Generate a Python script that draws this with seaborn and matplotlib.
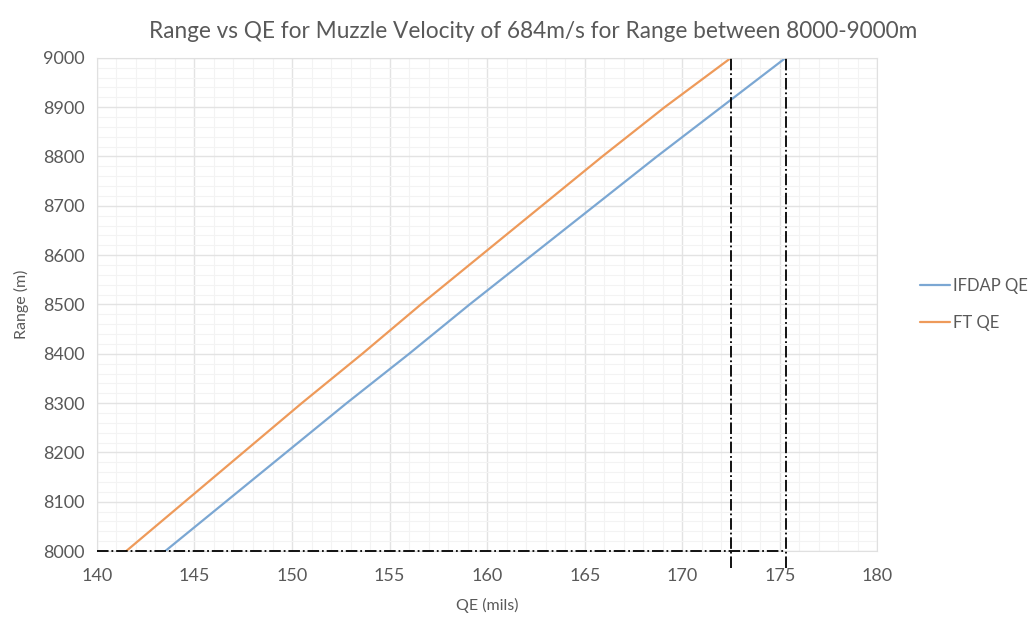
import pandas as pd
import seaborn as sns
import matplotlib.pyplot as plt
from matplotlib.ticker import MultipleLocator

# datos
rango = [8000, 8100, 8200, 8300, 8400, 8500, 8600, 8700, 8800, 8900, 9000]
ifdap_qe = [143.5, 146.6, 149.7, 152.8, 156.0, 159.1, 162.3, 165.5, 168.7, 172.0, 175.3]
ft_qe = [141.5, 144.5, 147.5, 150.5, 153.6, 156.6, 159.7, 162.8, 165.9, 169.1, 172.5]
series = ['IFDAP QE', 'FT QE']

df = pd.DataFrame({
    'QE': ifdap_qe + ft_qe,
    'Range': rango + rango,
    'Serie': [series[0]] * len(rango) + [series[1]] * len(rango),
})

sns.set_style('white')
plt.rcParams['font.family'] = ['Lato', 'DejaVu Sans']

fig = plt.figure(figsize=(10.31, 6.22), dpi=100)
ax = fig.add_axes([0.094, 0.114, 0.757, 0.793])

sns.lineplot(data=df, x='QE', y='Range', hue='Serie', sort=False,
             palette=['#7BA7D3', '#EE9A5A'], linewidth=1.6, ax=ax)

# lineas de referencia
gris = '#595959'
ax.axvline(ft_qe[-1], ymin=-0.035, ymax=1, color='black', lw=1.3, ls='-.', clip_on=False, zorder=5)
ax.axvline(ifdap_qe[-1], ymin=-0.035, ymax=1, color='black', lw=1.3, ls='-.', clip_on=False, zorder=5)
ax.plot([140, ifdap_qe[-1]], [rango[0], rango[0]], color='black', lw=1.3, ls='-.', clip_on=False, zorder=5)

ax.set_xlim(140, 180)
ax.set_ylim(8000, 9000)
ax.xaxis.set_major_locator(MultipleLocator(5))
ax.yaxis.set_major_locator(MultipleLocator(100))
ax.xaxis.set_minor_locator(MultipleLocator(1))
ax.yaxis.set_minor_locator(MultipleLocator(20))
ax.grid(which='major', color='#E3E3E3', lw=1.0)
ax.grid(which='minor', color='#F3F3F3', lw=0.8)
ax.set_axisbelow(True)
for s in ax.spines.values():
    s.set_color('#E0E0E0')
ax.tick_params(which='both', length=0, labelsize=13, labelcolor=gris)
ax.tick_params(axis='x', pad=12)
ax.tick_params(axis='y', pad=9)

# el titulo va centrado en toda la figura, no solo en los ejes
ax.set_title('Range vs QE for Muzzle Velocity of 684m/s for Range between 8000-9000m',
             fontsize=16.3, color=gris, pad=14, x=0.559)
ax.set_xlabel('QE (mils)', fontsize=11.5, color=gris, labelpad=10)
ax.set_ylabel('Range (m)', fontsize=11.5, color=gris, labelpad=10)

ax.legend(loc='center left', bbox_to_anchor=(1.035, 0.5), frameon=False,
          fontsize=12, labelcolor=gris, handlelength=1.8, handletextpad=0.2,
          labelspacing=1.3)

plt.savefig('out.png', dpi=100)
